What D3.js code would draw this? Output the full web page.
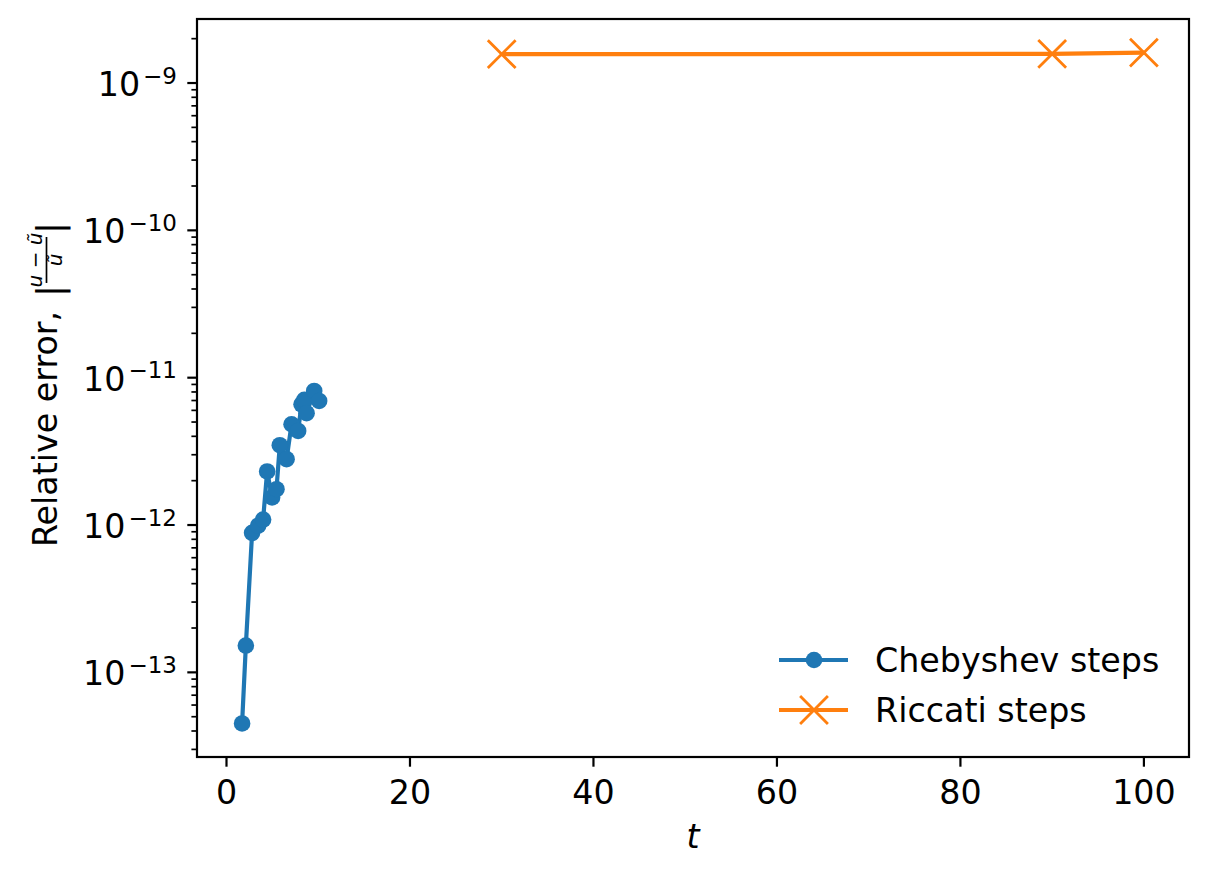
<!DOCTYPE html>
<html>
<head>
<meta charset="utf-8">
<script src="https://cdn.jsdelivr.net/npm/d3@7"></script>
<style>
  body { margin: 0; background: #fff; }
  svg { display: block; font-family: "DejaVu Sans", sans-serif; }
</style>
</head>
<body>
<div id="chart"></div>
<script>
// values
const chebT = [1.70, 2.11, 2.79, 3.45, 3.99, 4.43, 4.97, 5.45, 5.81, 6.55, 7.09, 7.81, 8.18, 8.49, 8.73, 9.56, 10.10];
const chebErr = [4.5e-14, 1.52e-13, 8.85e-13, 9.9e-13, 1.09e-12, 2.31e-12, 1.54e-12, 1.75e-12, 3.48e-12, 2.80e-12,
                 4.83e-12, 4.35e-12, 6.60e-12, 7.08e-12, 5.74e-12, 8.13e-12, 6.95e-12];
const ricT = [30, 90, 100];
const ricErr = [1.57e-9, 1.575e-9, 1.61e-9];
const xTicks = [0, 20, 40, 60, 80, 100];
const yExps = [-13, -12, -11, -10, -9];
const seriesNames = ["Chebyshev steps", "Riccati steps"];

const cfg = {
    width: 1208,
    height: 875,
    left: 197, right: 1189, top: 19, bottom: 757,
    fontSize: 33.3,
    blue: "#1f77b4",
    orange: "#ff7f0e",
};

const svg = d3.select("#chart").append("svg")
    .attr("width", cfg.width)
    .attr("height", cfg.height);

// matplotlib-like 5% margins
const allT = chebT.concat(ricT);
const tMin = d3.min(allT), tMax = d3.max(allT);
const tPad = (tMax - tMin) * 0.05;
const x = d3.scaleLinear().domain([tMin - tPad, tMax + tPad]).range([cfg.left, cfg.right]);

const allE = chebErr.concat(ricErr).map(Math.log10);
const eMin = d3.min(allE), eMax = d3.max(allE);
const ePad = (eMax - eMin) * 0.05;
const y = d3.scaleLog().domain([Math.pow(10, eMin - ePad), Math.pow(10, eMax + ePad)]).range([cfg.bottom, cfg.top]);

const tickLen = 9.7, minorLen = 5.6;

// x ticks
const xg = svg.append("g");
xTicks.forEach(t => {
    xg.append("line")
        .attr("x1", x(t)).attr("x2", x(t))
        .attr("y1", cfg.bottom).attr("y2", cfg.bottom + tickLen)
        .attr("stroke", "#000").attr("stroke-width", 2.2);
    xg.append("text")
        .attr("x", x(t)).attr("y", cfg.bottom + 47)
        .attr("text-anchor", "middle")
        .attr("font-size", cfg.fontSize)
        .text(t);
});

// y minor ticks
const yg = svg.append("g");
const [yLo, yHi] = y.domain();
for (let k = -15; k <= -8; k++) {
    for (let m = 2; m <= 9; m++) {
        const v = m * Math.pow(10, k);
        if (v < yLo || v > yHi) continue;
        yg.append("line")
            .attr("x1", cfg.left - minorLen).attr("x2", cfg.left)
            .attr("y1", y(v)).attr("y2", y(v))
            .attr("stroke", "#000").attr("stroke-width", 1.7);
    }
}

// y major ticks with 10^k labels
yExps.forEach(k => {
    const py = y(Math.pow(10, k));
    yg.append("line")
        .attr("x1", cfg.left - tickLen).attr("x2", cfg.left)
        .attr("y1", py).attr("y2", py)
        .attr("stroke", "#000").attr("stroke-width", 2.2);
    const lbl = yg.append("text")
        .attr("x", 177).attr("y", py + 13)
        .attr("text-anchor", "end")
        .attr("font-size", cfg.fontSize);
    lbl.append("tspan").text("10");
    lbl.append("tspan")
        .attr("dx", 3)
        .attr("dy", -12.5)
        .attr("font-size", 23)
        .text("\u2212" + Math.abs(k));
});

// Chebyshev line + dots
const line = d3.line().x(d => x(d[0])).y(d => y(d[1]));
const chebData = chebT.map((t, i) => [t, chebErr[i]]);
const ricData = ricT.map((t, i) => [t, ricErr[i]]);

const plot = svg.append("g");
plot.append("path")
    .attr("d", line(chebData))
    .attr("fill", "none")
    .attr("stroke", cfg.blue)
    .attr("stroke-width", 4.2)
    .attr("stroke-linejoin", "round");

plot.selectAll("circle.cheb")
    .data(chebData)
    .enter()
    .append("circle")
    .attr("class", "cheb")
    .attr("cx", d => x(d[0]))
    .attr("cy", d => y(d[1]))
    .attr("r", 8.3)
    .attr("fill", cfg.blue);

// Riccati line + x markers
plot.append("path")
    .attr("d", line(ricData))
    .attr("fill", "none")
    .attr("stroke", cfg.orange)
    .attr("stroke-width", 4.2);

const xMark = (g, cx, cy) => {
    const h = 13.9;
    g.append("path")
        .attr("d", `M${cx - h},${cy - h}L${cx + h},${cy + h}M${cx - h},${cy + h}L${cx + h},${cy - h}`)
        .attr("stroke", cfg.orange)
        .attr("stroke-width", 2.8)
        .attr("fill", "none");
};
ricData.forEach(d => xMark(plot, x(d[0]), y(d[1])));

// frame
svg.append("rect")
    .attr("x", cfg.left).attr("y", cfg.top)
    .attr("width", cfg.right - cfg.left)
    .attr("height", cfg.bottom - cfg.top)
    .attr("fill", "none")
    .attr("stroke", "#000")
    .attr("stroke-width", 2.2);

// x label
svg.append("text")
    .attr("x", (cfg.left + cfg.right) / 2)
    .attr("y", 848)
    .attr("text-anchor", "middle")
    .attr("font-size", cfg.fontSize)
    .attr("font-style", "oblique")
    .text("t");

// y label with fraction
const yl = svg.append("g")
    .attr("transform", `translate(57, ${(cfg.top + cfg.bottom) / 2}) rotate(-90)`);
const main = yl.append("text")
    .attr("font-size", cfg.fontSize)
    .text("Relative error,");
const mainLen = main.node().getComputedTextLength();
const gap = 14, fracW = 68;
const total = mainLen + gap + fracW;
main.attr("x", -total / 2);
const fx = -total / 2 + mainLen + gap;
yl.append("text")
    .attr("x", fx).attr("y", 5)
    .attr("font-size", 36)
    .text("|");
const nx = fx + 14;
yl.append("text")
    .attr("x", nx + 23).attr("y", -15)
    .attr("text-anchor", "middle")
    .attr("font-size", 20)
    .attr("font-style", "oblique")
    .text("u \u2212 \u0169");
yl.append("line")
    .attr("x1", nx).attr("x2", nx + 46)
    .attr("y1", -10.5).attr("y2", -10.5)
    .attr("stroke", "#000").attr("stroke-width", 1.7);
yl.append("text")
    .attr("x", nx + 23).attr("y", 5)
    .attr("text-anchor", "middle")
    .attr("font-size", 20)
    .attr("font-style", "oblique")
    .text("\u0169");
yl.append("text")
    .attr("x", nx + 49).attr("y", 5)
    .attr("font-size", 36)
    .text("|");

// legend (no frame)
const leg = svg.append("g");
const legY = [660, 710];
seriesNames.forEach((name, i) => {
    const ly = legY[i];
    const col = i === 0 ? cfg.blue : cfg.orange;
    leg.append("line")
        .attr("x1", 779).attr("x2", 848)
        .attr("y1", ly).attr("y2", ly)
        .attr("stroke", col).attr("stroke-width", 4.2);
    if (i === 0) {
        leg.append("circle").attr("cx", 814).attr("cy", ly).attr("r", 8.3).attr("fill", col);
    } else {
        xMark(leg, 814, ly);
    }
    leg.append("text")
        .attr("x", 875).attr("y", ly + 12)
        .attr("font-size", cfg.fontSize)
        .text(name);
});
</script>
</body>
</html>
